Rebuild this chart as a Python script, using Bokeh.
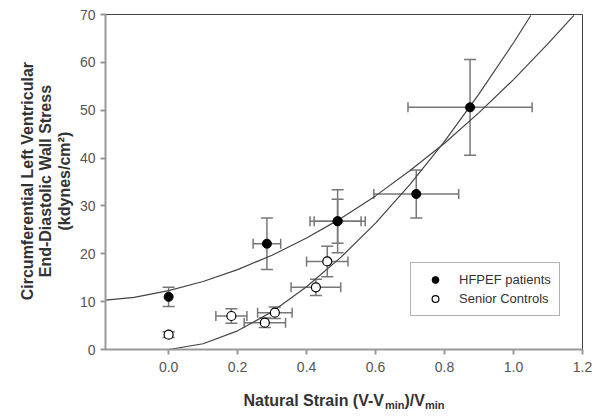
import math
from bokeh.plotting import figure
from bokeh.layouts import row, column
from bokeh.models import (ColumnDataSource, Whisker, TeeHead, Legend, LegendItem,
                          Range1d, FixedTicker, NumeralTickFormatter)
from bokeh.core.properties import value
from bokeh.embed import file_html
from bokeh.resources import INLINE

# ---- data ----
hf_x = [0.0, 0.285, 0.49, 0.49, 0.718, 0.874]
hf_y = [11.0, 22.1, 26.8, 26.8, 32.5, 50.6]
hf_yerr = [2.0, 5.4, 6.6, 4.6, 5.0, 10.0]
hf_xerr = [0.0, 0.04, 0.08, 0.068, 0.123, 0.18]

sc_x = [0.0, 0.182, 0.279, 0.308, 0.427, 0.46]
sc_y = [3.1, 7.0, 5.6, 7.7, 13.0, 18.4]
sc_yerr = [0.6, 1.5, 1.0, 1.2, 1.7, 3.2]
sc_xerr = [0.0, 0.045, 0.06, 0.05, 0.072, 0.06]

hf_curve_x = [-0.183, -0.1, 0.0, 0.1, 0.2, 0.3, 0.4, 0.5, 0.6, 0.7, 0.8, 0.9, 1.0, 1.1, 1.175]
hf_curve_y = [10.3, 10.9, 12.3, 14.2, 16.7, 19.7, 23.3, 27.4, 32.1, 37.4, 43.1, 49.5, 56.4, 63.9, 69.8]

sc_curve_x = [0.0, 0.1, 0.2, 0.3, 0.4, 0.5, 0.6, 0.7, 0.8, 0.9, 1.0, 1.05]
sc_curve_y = [0.0, 1.2, 3.9, 7.9, 13.1, 19.3, 26.4, 34.5, 43.5, 53.4, 64.1, 69.8]

x_ticks = [0.0, 0.2, 0.4, 0.6, 0.8, 1.0, 1.2]
y_ticks = [0, 10, 20, 30, 40, 50, 60, 70]

y_title_lines = ["Circumferential Left Ventricular", "End-Diastolic Wall Stress", "(kdynes/cm\u00b2)"]
x_title_main = ["Natural Strain (V-V", ")/V"]
x_title_sub = ["min", "min"]

FONT = "Liberation Sans"
ERR_COLOR = "#777777"
TITLE_COLOR = "#333333"

TOTAL_W = 598
LEFT_W = 76
TOP_H = 378
BOTTOM_H = 36

# ---- main plot ----
p = figure(width=TOTAL_W - LEFT_W, height=TOP_H, x_range=Range1d(-0.183, 1.2), y_range=Range1d(0, 70),
           output_backend="svg", toolbar_location=None,
           min_border_left=104 - LEFT_W, min_border_right=16, min_border_top=14,
           min_border_bottom=TOP_H - 349)
p.xgrid.visible = False
p.ygrid.visible = False
p.outline_line_color = "#444444"
p.outline_line_width = 1

for ax in (p.xaxis[0], p.yaxis[0]):
    ax.axis_line_color = "#999999"
    ax.axis_line_width = 2
    ax.major_tick_line_color = "#999999"
    ax.major_tick_line_width = 2
    ax.major_tick_out = 5
    ax.major_tick_in = 0
    ax.minor_tick_out = 0
    ax.minor_tick_in = 0
    ax.major_label_text_font = FONT
    ax.major_label_text_font_size = "14px"
    ax.major_label_text_color = "#555555"
p.xaxis[0].ticker = FixedTicker(ticks=x_ticks)
p.xaxis[0].formatter = NumeralTickFormatter(format="0.0")
p.xaxis[0].major_label_standoff = 7
p.yaxis[0].ticker = FixedTicker(ticks=y_ticks)
p.yaxis[0].major_label_standoff = 5


def whiskers(xs, ys, xerr, yerr):
    ysrc = ColumnDataSource(dict(base=xs,
                                 lower=[y - e for y, e in zip(ys, yerr)],
                                 upper=[y + e for y, e in zip(ys, yerr)]))
    wy = Whisker(base="base", lower="lower", upper="upper", dimension="height", source=ysrc,
                 line_color=ERR_COLOR, line_width=1.5,
                 upper_head=TeeHead(size=12, line_color=ERR_COLOR, line_width=1.5),
                 lower_head=TeeHead(size=12, line_color=ERR_COLOR, line_width=1.5))
    p.add_layout(wy)
    keep = [i for i, e in enumerate(xerr) if e > 0]
    xsrc = ColumnDataSource(dict(base=[ys[i] for i in keep],
                                 lower=[xs[i] - xerr[i] for i in keep],
                                 upper=[xs[i] + xerr[i] for i in keep]))
    wx = Whisker(base="base", lower="lower", upper="upper", dimension="width", source=xsrc,
                 line_color=ERR_COLOR, line_width=1.5,
                 upper_head=TeeHead(size=10, line_color=ERR_COLOR, line_width=1.5),
                 lower_head=TeeHead(size=10, line_color=ERR_COLOR, line_width=1.5))
    p.add_layout(wx)


whiskers(hf_x, hf_y, hf_xerr, hf_yerr)
whiskers(sc_x, sc_y, sc_xerr, sc_yerr)

p.line(hf_curve_x, hf_curve_y, line_color="#444444", line_width=1.2)
p.line(sc_curve_x, sc_curve_y, line_color="#444444", line_width=1.2)

hf_r = p.scatter(hf_x, hf_y, size=9, marker="circle", fill_color="black", line_color="black")
sc_r = p.scatter(sc_x, sc_y, size=9, marker="circle", fill_color="white", line_color="black",
                 line_width=1.2)

legend = Legend(items=[LegendItem(label="HFPEF patients", renderers=[hf_r]),
                       LegendItem(label="Senior Controls", renderers=[sc_r])],
                location=(305, 33), margin=0, padding=8, spacing=2,
                glyph_width=32, glyph_height=17, label_height=17, label_standoff=8,
                label_text_font=FONT, label_text_font_size="13px", label_text_color="#333333",
                border_line_color="#666666", border_line_width=1,
                background_fill_color="white", background_fill_alpha=1.0)
p.add_layout(legend, "center")


def blank(w, h):
    f = figure(width=w, height=h, x_range=Range1d(0, w), y_range=Range1d(0, h),
               x_axis_type=None, y_axis_type=None, output_backend="svg", toolbar_location=None,
               min_border=0, outline_line_color=None)
    f.xgrid.visible = False
    f.ygrid.visible = False
    return f


# ---- y-axis title (rotated, three lines) ----
yt = blank(LEFT_W, TOP_H)
yt.text(x=[26.7, 45.4, 64.2], y=[TOP_H - 188] * 3, text=y_title_lines, angle=math.pi / 2,
        text_align="center", text_baseline="alphabetic", text_font=value(FONT),
        text_font_style="bold", text_font_size="16px", text_color=TITLE_COLOR)

# ---- x-axis title with subscripts ----
xt = blank(TOTAL_W, BOTTOM_H)
xt.text(x=[243, 404.0], y=[BOTTOM_H - 22] * 2, text=x_title_main,
        text_align="left", text_baseline="alphabetic", text_font=value(FONT),
        text_font_style="bold", text_font_size="16px", text_color=TITLE_COLOR)
xt.text(x=[384.4, 424.4], y=[BOTTOM_H - 26.5] * 2, text=x_title_sub,
        text_align="left", text_baseline="alphabetic", text_font=value(FONT),
        text_font_style="bold", text_font_size="11px", text_color=TITLE_COLOR)

layout = column(row(yt, p, spacing=0), xt, spacing=0)
open("out.html", "w").write(file_html(layout, INLINE))
